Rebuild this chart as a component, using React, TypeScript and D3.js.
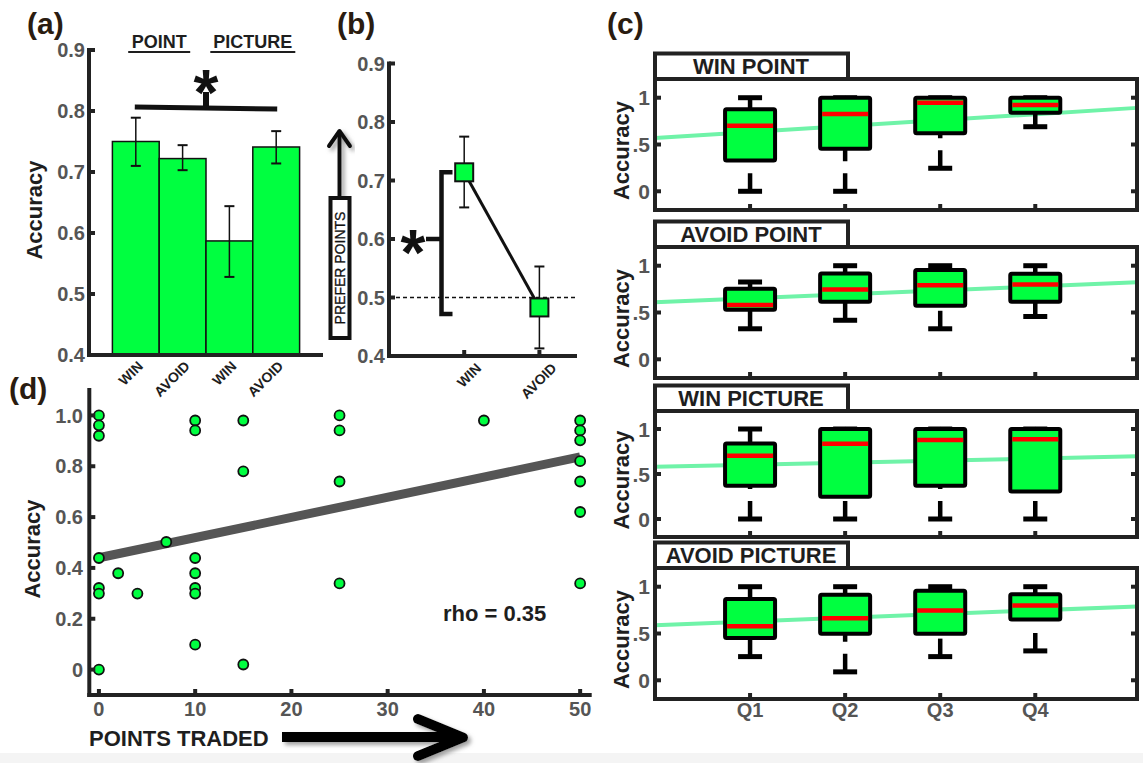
import React from "react";
import * as d3 from "d3";

const FONT = "'Liberation Sans', Arial, Helvetica, sans-serif";
const GREEN = "#00ff40";
const TICK_GRAY = "#555555";
const DARK = "#1e1e1e";
const AXIS = "#222222";
const LETTER = "#2a1c10";

// ---------- Panel (a) ----------
const aCategories = ["WIN", "AVOID", "WIN", "AVOID"];
const aGroups = ["POINT", "PICTURE"];
const aMeans = [0.750, 0.722, 0.587, 0.741];
const aErrLow = [0.710, 0.703, 0.528, 0.714];
const aErrHigh = [0.789, 0.744, 0.644, 0.767];
const aYTicks = [0.4, 0.5, 0.6, 0.7, 0.8, 0.9];

// ---------- Panel (b) ----------
const bCategories = ["WIN", "AVOID"];
const bMeans = [0.714, 0.483];
const bErrLow = [0.654, 0.413];
const bErrHigh = [0.775, 0.553];
const bYTicks = [0.4, 0.5, 0.6, 0.7, 0.8, 0.9];
const bChance = 0.5;

// ---------- Panel (c) ----------
const cTitles = ["WIN POINT", "AVOID POINT", "WIN PICTURE", "AVOID PICTURE"];
const cQuartiles = ["Q1", "Q2", "Q3", "Q4"];
// [whisker min, q1, median, q3, whisker max]
const cWinPoint = [
  [0.0, 0.33, 0.70, 0.877, 1.0],
  [0.0, 0.454, 0.827, 1.0, 1.0],
  [0.246, 0.62, 0.947, 1.0, 1.0],
  [0.69, 0.84, 0.923, 1.0, 1.0],
];
const cAvoidPoint = [
  [0.326, 0.529, 0.58, 0.754, 0.826],
  [0.417, 0.616, 0.746, 0.917, 1.0],
  [0.326, 0.572, 0.79, 0.953, 1.0],
  [0.457, 0.616, 0.80, 0.913, 1.0],
];
const cWinPicture = [
  [0.0, 0.37, 0.702, 0.84, 1.0],
  [0.0, 0.248, 0.836, 1.0, 1.0],
  [0.0, 0.37, 0.878, 1.0, 1.0],
  [0.0, 0.305, 0.885, 1.0, 1.0],
];
const cAvoidPicture = [
  [0.253, 0.451, 0.578, 0.87, 1.0],
  [0.09, 0.498, 0.664, 0.913, 1.0],
  [0.253, 0.498, 0.747, 0.957, 1.0],
  [0.314, 0.65, 0.80, 0.92, 1.0],
];
// trend line value at x=0 and x=5 (quartile axis units)
const cTrendStart = [0.57, 0.61, 0.58, 0.588];
const cTrendEnd = [0.887, 0.82, 0.695, 0.787];
const cYTicks = [0, 0.5, 1];
const cYTickLabels = ["0", ".5", "1"];

// ---------- Panel (d) ----------
const dPointsTraded = [0, 0, 0, 0, 0, 0, 0, 2, 4, 7, 10, 10, 10, 10, 10, 10, 10, 15, 15, 15, 25, 25, 25, 25, 40, 50, 50, 50, 50, 50, 50, 50];
const dAccuracy = [1.0, 0.961, 0.92, 0.439, 0.321, 0.299, 0.0, 0.379, 0.299, 0.502, 0.98, 0.941, 0.439, 0.379, 0.321, 0.299, 0.098, 0.98, 0.78, 0.02, 1.0, 0.941, 0.74, 0.339, 0.98, 0.98, 0.941, 0.902, 0.82, 0.74, 0.62, 0.339];
const dFitX = [0, 50];
const dFitY = [0.44, 0.837];
const dXTicks = [0, 10, 20, 30, 40, 50];
const dYTicks = [0, 0.2, 0.4, 0.6, 0.8, 1.0];
const dRho = "rho = 0.35";

const fmt1 = d3.format(".1f");

function Asterisk({ cx, cy }: { cx: number; cy: number }) {
  return (
    <text x={cx} y={cy + 36} textAnchor="middle" fontFamily={FONT} fontWeight="bold" fontSize={64} fill="#111">
      *
    </text>
  );
}

function PanelA() {
  const x = d3.scaleLinear().domain([0, 5]).range([89, 323]);
  const y = d3.scaleLinear().domain([0.4, 0.9]).range([355, 50]);
  return (
    <g>
      <text x={27} y={34} fontFamily={FONT} fontWeight="bold" fontSize={30} fill={LETTER}>(a)</text>
      {aGroups.map((g, i) => {
        const cx = (x(2 * i + 1) + x(2 * i + 2)) / 2;
        const w = i === 0 ? 62 : 85;
        return (
          <g key={g}>
            <text x={cx} y={48} textAnchor="middle" fontFamily={FONT} fontWeight="bold" fontSize={18} fill={DARK}>{g}</text>
            <line x1={cx - w / 2} x2={cx + w / 2} y1={52} y2={52} stroke={DARK} strokeWidth={2} />
          </g>
        );
      })}
      {aMeans.map((m, i) => (
        <rect key={i} x={x(i + 0.5)} y={y(m)} width={x(i + 1.5) - x(i + 0.5)} height={y(0.4) - y(m)} fill={GREEN} stroke="#111" strokeWidth={1.5} />
      ))}
      {aMeans.map((m, i) => (
        <g key={"e" + i} stroke="#111" strokeWidth={2}>
          <line x1={x(i + 1)} x2={x(i + 1)} y1={y(aErrLow[i])} y2={y(aErrHigh[i])} strokeWidth={1.5} />
          <line x1={x(i + 1) - 5} x2={x(i + 1) + 5} y1={y(aErrLow[i])} y2={y(aErrLow[i])} />
          <line x1={x(i + 1) - 5} x2={x(i + 1) + 5} y1={y(aErrHigh[i])} y2={y(aErrHigh[i])} />
        </g>
      ))}
      <line x1={x(1) - 1} x2={x(4) + 1} y1={107} y2={109} stroke="#111" strokeWidth={5} />
      <line x1={x(2.5)} x2={x(2.5)} y1={92} y2={108} stroke="#111" strokeWidth={6} />
      <Asterisk cx={x(2.5)} cy={79} />
      <line x1={x(0)} x2={x(0)} y1={y(0.9) - 2} y2={y(0.4) + 2} stroke={AXIS} strokeWidth={4} />
      <line x1={x(0) - 2} x2={x(5)} y1={y(0.4)} y2={y(0.4)} stroke={AXIS} strokeWidth={4} />
      {aYTicks.map((t) => (
        <g key={t}>
          <line x1={x(0)} x2={x(0) + 6} y1={y(t)} y2={y(t)} stroke={AXIS} strokeWidth={4} />
          <text x={85} y={y(t)} dy="0.36em" textAnchor="end" fontFamily={FONT} fontWeight="bold" fontSize={20} fill={TICK_GRAY}>{fmt1(t)}</text>
        </g>
      ))}
      {aCategories.map((c, i) => (
        <text key={i} transform={`translate(${x(i + 1) + 8},${367}) rotate(-45)`} textAnchor="end" fontFamily={FONT} fontWeight="bold" fontSize={14} fill={DARK}>{c}</text>
      ))}
      <text transform={`translate(42,210) rotate(-90)`} textAnchor="middle" fontFamily={FONT} fontWeight="bold" fontSize={22} fill={DARK}>Accuracy</text>
    </g>
  );
}

function PanelB() {
  const x = d3.scaleLinear().domain([0, 2.5]).range([389, 577]);
  const y = d3.scaleLinear().domain([0.4, 0.9]).range([356, 63.5]);
  const line = d3.line<number>().x((_, i) => x(i + 1)).y((d) => y(d));
  const bx = 441.5;
  return (
    <g>
      <text x={337} y={34} fontFamily={FONT} fontWeight="bold" fontSize={30} fill={LETTER}>(b)</text>
      <g filter="url(#shadow)">
        <line x1={339.5} x2={339.5} y1={197} y2={133} stroke="#111" strokeWidth={4} />
        <polyline points="329,146 339.5,131 350,146" fill="none" stroke="#111" strokeWidth={4} strokeLinecap="round" strokeLinejoin="round" />
      </g>
      <rect x={330.5} y={198} width={19} height={140} fill="white" stroke="#111" strokeWidth={4} />
      <text transform={`translate(345,268) rotate(-90)`} textAnchor="middle" fontFamily={FONT} fontSize={14} fill="#111" stroke="#111" strokeWidth={0.3}>PREFER POINTS</text>
      <line x1={x(0)} x2={x(2.5)} y1={y(bChance)} y2={y(bChance)} stroke="#111" strokeWidth={1.5} strokeDasharray="4 3" />
      <path d={`M${bx + 11},${y(bMeans[0])} H${bx} V${y(0.472)} H${bx + 11}`} fill="none" stroke="#111" strokeWidth={4.5} />
      <line x1={426} x2={bx} y1={y(0.6)} y2={y(0.6)} stroke="#111" strokeWidth={4.5} />
      <Asterisk cx={413} cy={y(0.6)} />
      <line x1={x(0)} x2={x(0)} y1={y(0.9) - 2} y2={y(0.4) + 2} stroke={AXIS} strokeWidth={4} />
      <line x1={x(0) - 2} x2={x(2.5)} y1={y(0.4)} y2={y(0.4)} stroke={AXIS} strokeWidth={4} />
      {bYTicks.map((t) => (
        <g key={t}>
          <line x1={x(0)} x2={x(0) + 6} y1={y(t)} y2={y(t)} stroke={AXIS} strokeWidth={4} />
          <text x={385} y={y(t)} dy="0.36em" textAnchor="end" fontFamily={FONT} fontWeight="bold" fontSize={20} fill={TICK_GRAY}>{fmt1(t)}</text>
        </g>
      ))}
      {bCategories.map((c, i) => (
        <g key={c}>
          <line x1={x(i + 1)} x2={x(i + 1)} y1={y(0.4)} y2={y(0.4) - 6} stroke={AXIS} strokeWidth={4} />
          <text transform={`translate(${x(i + 1) + 18},${369}) rotate(-45)`} textAnchor="end" fontFamily={FONT} fontWeight="bold" fontSize={14} fill={DARK}>{c}</text>
        </g>
      ))}
      <path d={line(bMeans) || ""} fill="none" stroke="#111" strokeWidth={3} />
      {bMeans.map((m, i) => (
        <g key={"e" + i} stroke="#111" strokeWidth={1.5}>
          <line x1={x(i + 1)} x2={x(i + 1)} y1={y(bErrLow[i])} y2={y(bErrHigh[i])} />
          <line x1={x(i + 1) - 5} x2={x(i + 1) + 5} y1={y(bErrLow[i])} y2={y(bErrLow[i])} strokeWidth={2} />
          <line x1={x(i + 1) - 5} x2={x(i + 1) + 5} y1={y(bErrHigh[i])} y2={y(bErrHigh[i])} strokeWidth={2} />
        </g>
      ))}
      {bMeans.map((m, i) => (
        <rect key={"s" + i} x={x(i + 1) - 9} y={y(m) - 9} width={18} height={18} fill={GREEN} stroke="#111" strokeWidth={2} />
      ))}
    </g>
  );
}

const cData = [cWinPoint, cAvoidPoint, cWinPicture, cAvoidPicture];
const cTops = [79, 247, 411, 568];
const cBottoms = [210, 378, 537, 699];

function PanelC() {
  const x = d3.scaleLinear().domain([0, 5.07]).range([655, 1137]);
  const hw = 25;
  return (
    <g>
      <text x={607} y={34} fontFamily={FONT} fontWeight="bold" fontSize={30} fill={LETTER}>(c)</text>
      {cData.map((boxes, s) => {
        const top = cTops[s];
        const bottom = cBottoms[s];
        const y = d3.scaleLinear().domain([-0.2, 1.2]).range([bottom, top]);
        const xEnd = x.domain()[1];
        const trendY = (v: number) => cTrendStart[s] + (cTrendEnd[s] - cTrendStart[s]) * (v / 5);
        return (
          <g key={s}>
            <rect x={655} y={top - 25.5} width={193} height={25.5} fill="white" stroke={AXIS} strokeWidth={4} />
            <text x={751} y={top - 5} textAnchor="middle" fontFamily={FONT} fontWeight="bold" fontSize={22} fill={DARK}>{cTitles[s]}</text>
            <line x1={x(0)} x2={x(xEnd)} y1={y(trendY(0))} y2={y(trendY(xEnd))} stroke="#6ff3a8" strokeWidth={4} />
            {boxes.map((b, q) => {
              const cx = x(q + 1);
              const [mn, q1, med, q3, mx] = b;
              return (
                <g key={q}>
                  <line x1={cx} x2={cx} y1={y(mn)} y2={y(q1)} stroke="#000" strokeWidth={4.5} strokeDasharray="18 12" />
                  <line x1={cx} x2={cx} y1={y(mx)} y2={y(q3)} stroke="#000" strokeWidth={4.5} strokeDasharray="18 12" />
                  <line x1={cx - 12} x2={cx + 12} y1={y(mn)} y2={y(mn)} stroke="#000" strokeWidth={5} />
                  <line x1={cx - 12} x2={cx + 12} y1={y(mx)} y2={y(mx)} stroke="#000" strokeWidth={5} />
                  <rect x={cx - hw} y={y(q3)} width={2 * hw} height={y(q1) - y(q3)} fill={GREEN} stroke="#000" strokeWidth={4} rx={1.5} />
                  <line x1={cx - hw + 2} x2={cx + hw - 2} y1={y(med)} y2={y(med)} stroke="#ff0000" strokeWidth={4.5} />
                </g>
              );
            })}
            <rect x={655} y={top} width={1137 - 655} height={bottom - top} fill="none" stroke={AXIS} strokeWidth={4} />
            {cYTicks.map((t, i) => (
              <g key={t}>
                <line x1={655} x2={661} y1={y(t)} y2={y(t)} stroke={AXIS} strokeWidth={4} />
                <line x1={1137} x2={1131} y1={y(t)} y2={y(t)} stroke={AXIS} strokeWidth={4} />
                <text x={650} y={y(t)} dy="0.36em" textAnchor="end" fontFamily={FONT} fontWeight="bold" fontSize={21} fill={TICK_GRAY}>{cYTickLabels[i]}</text>
              </g>
            ))}
            {cQuartiles.map((qq, q) => (
              <line key={qq} x1={x(q + 1)} x2={x(q + 1)} y1={bottom} y2={bottom - 6} stroke={AXIS} strokeWidth={4} />
            ))}
            <text transform={`translate(629,${(top + bottom) / 2 + 6}) rotate(-90)`} textAnchor="middle" fontFamily={FONT} fontWeight="bold" fontSize={22} fill={DARK}>Accuracy</text>
            {s === cData.length - 1 &&
              cQuartiles.map((qq, q) => (
                <text key={"l" + qq} x={x(q + 1)} y={bottom + 18} textAnchor="middle" fontFamily={FONT} fontWeight="bold" fontSize={20} fill={TICK_GRAY}>{qq}</text>
              ))}
          </g>
        );
      })}
    </g>
  );
}

function PanelD() {
  const x = d3.scaleLinear().domain([-1, 51.2]).range([89.3, 591.7]);
  const y = d3.scaleLinear().domain([-0.1, 1.1]).range([695, 390]);
  return (
    <g>
      <text x={9} y={399} fontFamily={FONT} fontWeight="bold" fontSize={30} fill={LETTER}>(d)</text>
      <line x1={x(dFitX[0])} x2={x(dFitX[1])} y1={y(dFitY[0])} y2={y(dFitY[1])} stroke="#555" strokeWidth={9} />
      {dPointsTraded.map((px, i) => (
        <circle key={i} cx={x(px)} cy={y(dAccuracy[i])} r={5} fill={GREEN} stroke="#111" strokeWidth={1.8} />
      ))}
      <line x1={x(-1)} x2={x(-1)} y1={y(1.1) - 2} y2={y(-0.1) + 2} stroke={AXIS} strokeWidth={4} />
      <line x1={x(-1) - 2} x2={x(51.2)} y1={y(-0.1)} y2={y(-0.1)} stroke={AXIS} strokeWidth={4} />
      {dYTicks.map((t) => (
        <g key={t}>
          <line x1={x(-1)} x2={x(-1) + 6} y1={y(t)} y2={y(t)} stroke={AXIS} strokeWidth={4} />
          <text x={83} y={y(t)} dy="0.36em" textAnchor="end" fontFamily={FONT} fontWeight="bold" fontSize={20} fill={TICK_GRAY}>{t === 0 ? "0" : fmt1(t)}</text>
        </g>
      ))}
      {dXTicks.map((t) => (
        <g key={t}>
          <line x1={x(t)} x2={x(t)} y1={y(-0.1)} y2={y(-0.1) - 6} stroke={AXIS} strokeWidth={4} />
          <text x={x(t)} y={716} textAnchor="middle" fontFamily={FONT} fontWeight="bold" fontSize={20} fill={TICK_GRAY}>{t}</text>
        </g>
      ))}
      <text transform={`translate(40,549) rotate(-90)`} textAnchor="middle" fontFamily={FONT} fontWeight="bold" fontSize={22} fill={DARK}>Accuracy</text>
      <text x={443} y={621} fontFamily={FONT} fontWeight="bold" fontSize={22} fill={DARK}>{dRho}</text>
      <text x={89} y={746} fontFamily={FONT} fontWeight="bold" fontSize={22} fill={DARK}>POINTS TRADED</text>
      <g filter="url(#shadow)">
        <line x1={282} x2={460} y1={737} y2={737} stroke="#000" strokeWidth={10} />
        <polyline points="418,719 463,737.5 418,756" fill="none" stroke="#000" strokeWidth={10} strokeLinecap="round" strokeLinejoin="round" />
      </g>
    </g>
  );
}

export default function App() {
  return (
    <svg width={1143} height={763} style={{ position: "absolute", left: 0, top: 0, background: "white" }}>
      <defs>
        <filter id="shadow" x="-20%" y="-40%" width="140%" height="180%">
          <feDropShadow dx={3} dy={3} stdDeviation={2} floodColor="#777" floodOpacity={0.7} />
        </filter>
      </defs>
      <rect x={0} y={0} width={1143} height={763} fill="white" />
      <rect x={0} y={753} width={1143} height={10} fill="#f4f4f4" />
      <PanelA />
      <PanelB />
      <PanelC />
      <PanelD />
    </svg>
  );
}
